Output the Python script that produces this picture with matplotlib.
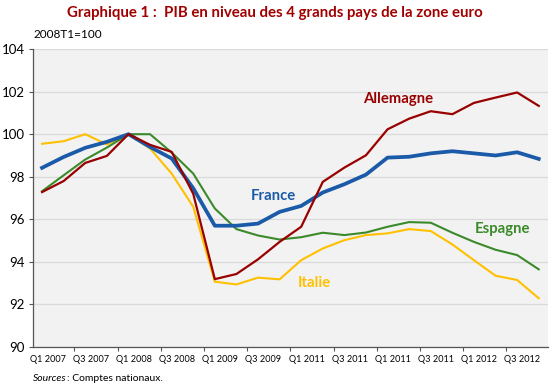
import numpy as np
import matplotlib
matplotlib.use("Agg")
import matplotlib.pyplot as plt

plt.rcParams['font.family'] = ['Lato', 'DejaVu Sans']

# Données : PIB en niveau, base 2008T1 = 100, T1 2007 à T4 2012
trimestres = ['Q1 2007', 'Q2 2007', 'Q3 2007', 'Q4 2007',
              'Q1 2008', 'Q2 2008', 'Q3 2008', 'Q4 2008',
              'Q1 2009', 'Q2 2009', 'Q3 2009', 'Q4 2009',
              'Q1 2010', 'Q2 2010', 'Q3 2010', 'Q4 2010',
              'Q1 2011', 'Q2 2011', 'Q3 2011', 'Q4 2011',
              'Q1 2012', 'Q2 2012', 'Q3 2012', 'Q4 2012']

# libellés de l'axe tels qu'ils figurent sur le graphique d'origine
etiquettes_x = ['Q1 2007', 'Q3 2007', 'Q1 2008', 'Q3 2008', 'Q1 2009', 'Q3 2009',
                'Q1 2011', 'Q3 2011', 'Q1 2011', 'Q3 2011', 'Q1 2012', 'Q3 2012']

france = [98.42, 98.93, 99.36, 99.64, 100.0, 99.4, 98.86, 97.46,
          95.7, 95.7, 95.8, 96.35, 96.63, 97.26, 97.65, 98.1,
          98.9, 98.94, 99.1, 99.2, 99.1, 99.0, 99.15, 98.84]
allemagne = [97.28, 97.8, 98.65, 98.98, 100.0, 99.5, 99.17, 97.2,
             93.19, 93.43, 94.12, 94.94, 95.65, 97.76, 98.43, 99.01,
             100.23, 100.73, 101.08, 100.94, 101.47, 101.72, 101.96, 101.33]
espagne = [97.32, 98.07, 98.81, 99.37, 100.0, 100.0, 99.14, 98.15,
           96.51, 95.54, 95.24, 95.05, 95.16, 95.37, 95.26, 95.38,
           95.65, 95.87, 95.84, 95.37, 94.94, 94.57, 94.32, 93.65]
italie = [99.55, 99.67, 100.0, 99.52, 100.0, 99.33, 98.15, 96.59,
          93.07, 92.94, 93.26, 93.18, 94.08, 94.63, 95.02, 95.26,
          95.34, 95.54, 95.45, 94.82, 94.08, 93.35, 93.15, 92.29]

bleu = '#1a5aa8'
rouge = '#990000'
vert = '#3b8a2a'
jaune = '#ffc000'

fig = plt.figure(figsize=(5.5, 3.91), dpi=100)
ax = fig.add_axes([0.06, 0.1125, 0.936, 0.762])
ax.set_facecolor('#f2f2f2')

x = np.arange(len(trimestres))
ax.plot(x, italie, color=jaune, lw=1.5, zorder=3)
ax.plot(x, espagne, color=vert, lw=1.5, zorder=3)
ax.plot(x, france, color=bleu, lw=2.7, zorder=4)
ax.plot(x, allemagne, color=rouge, lw=1.6, zorder=5)

ax.set_xlim(-0.42, 23.42)
ax.set_ylim(90, 104)
ax.set_yticks(range(90, 105, 2))
ax.yaxis.grid(True, color='#dadada', lw=0.9)
ax.set_axisbelow(True)

ax.set_xticks(np.arange(1.5, 23, 2))
ax.set_xticklabels([])
ax.set_xticks(np.arange(0, 24, 2) + 0.25, minor=True)
ax.set_xticklabels(etiquettes_x, minor=True, fontsize=6.6)
ax.tick_params(axis='x', which='minor', length=0, pad=6)
ax.tick_params(axis='x', which='major', length=3, color='#555555')
ax.tick_params(axis='y', length=3, color='#555555', labelsize=9.5, pad=3)

for s in ['top', 'right']:
    ax.spines[s].set_visible(False)
for s in ['left', 'bottom']:
    ax.spines[s].set_color('#555555')
    ax.spines[s].set_linewidth(0.9)

# étiquettes des séries
ax.text(16.48, 101.64, 'Allemagne', color=rouge, fontsize=10.7, fontweight='bold', ha='center', va='center')
ax.text(10.69, 97.09, 'France', color=bleu, fontsize=10.7, fontweight='bold', ha='center', va='center')
ax.text(21.32, 95.54, 'Espagne', color=vert, fontsize=10.7, fontweight='bold', ha='center', va='center')
ax.text(12.59, 93.0, 'Italie', color=jaune, fontsize=10.7, fontweight='bold', ha='center', va='center')

fig.text(0.5, 0.968, 'Graphique 1 :  PIB en niveau des 4 grands pays de la zone euro',
         color='#a00000', fontsize=10.8, fontweight='bold', ha='center', va='center')
ax.text(0.0, 1.03, '2008T1=100', transform=ax.transAxes, fontsize=8.5, ha='left', va='bottom')

fig.text(0.06, 0.033, 'Sources', fontsize=7.5, style='italic', ha='left', va='center')
fig.text(0.06 + 0.062, 0.033, ': Comptes nationaux.', fontsize=7.5, ha='left', va='center')

fig.savefig('out.png', dpi=100)
